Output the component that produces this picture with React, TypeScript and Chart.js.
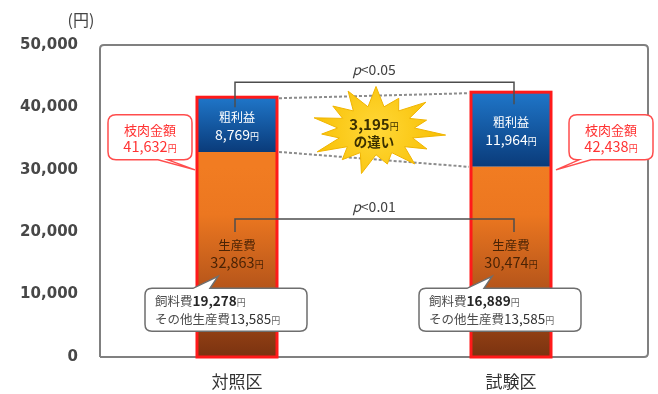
import React, { useEffect, useRef } from 'react';
import { Chart, registerables } from 'chart.js';

Chart.register(...registerables);

// ---------- data ----------
const categories = ['対照区', '試験区'];
const productionCost = [32863, 30474];
const grossProfit = [8769, 11964];
const carcassValue = [41632, 42438];
const feedCost = [19278, 16889];
const otherCost = [13585, 13585];
const profitDiff = 3195;
const pLabels = ['p<0.05', 'p<0.01'];
const yMin = 0;
const yMax = 50000;
const yStep = 10000;
const yUnitLabel = '(円)';
const segmentNames = ['生産費', '粗利益'];
const carcassTitle = '枝肉金額';
const feedName = '飼料費';
const otherName = 'その他生産費';
const diffSuffix = 'の違い';
const yen = '円';

// ---------- style ----------
const JP = '"Noto Sans CJK JP", "Noto Sans", sans-serif';
const fmt = (v: number) => v.toLocaleString('en-US');

type Run = { t: string; f: string; c: string };
function drawRuns(ctx: CanvasRenderingContext2D, runs: Run[], x: number, y: number, align: 'center' | 'left') {
  let w = 0;
  runs.forEach((r) => {
    ctx.font = r.f;
    w += ctx.measureText(r.t).width;
  });
  let cx = align === 'center' ? x - w / 2 : x;
  ctx.textAlign = 'left';
  ctx.textBaseline = 'alphabetic';
  runs.forEach((r) => {
    ctx.font = r.f;
    ctx.fillStyle = r.c;
    ctx.fillText(r.t, cx, y);
    cx += ctx.measureText(r.t).width;
  });
}

function calloutPath(
  ctx: CanvasRenderingContext2D,
  x: number, y: number, w: number, h: number, r: number,
  side: 'top' | 'bottom', b1: number, b2: number, tipX: number, tipY: number
) {
  ctx.beginPath();
  ctx.moveTo(x + r, y);
  if (side === 'top') {
    ctx.lineTo(b1, y);
    ctx.lineTo(tipX, tipY);
    ctx.lineTo(b2, y);
  }
  ctx.lineTo(x + w - r, y);
  ctx.quadraticCurveTo(x + w, y, x + w, y + r);
  ctx.lineTo(x + w, y + h - r);
  ctx.quadraticCurveTo(x + w, y + h, x + w - r, y + h);
  if (side === 'bottom') {
    ctx.lineTo(b2, y + h);
    ctx.lineTo(tipX, tipY);
    ctx.lineTo(b1, y + h);
  }
  ctx.lineTo(x + r, y + h);
  ctx.quadraticCurveTo(x, y + h, x, y + h - r);
  ctx.lineTo(x, y + r);
  ctx.quadraticCurveTo(x, y, x + r, y);
  ctx.closePath();
}

const annotationPlugin = {
  id: 'annotations',
  beforeDatasetsDraw(chart: any) {
    const { ctx, chartArea: a } = chart;
    ctx.save();
    // plot frame
    ctx.strokeStyle = '#808080';
    ctx.lineWidth = 2;
    const r = 4;
    ctx.beginPath();
    ctx.moveTo(a.left, a.bottom);
    ctx.lineTo(a.left, a.top + r);
    ctx.quadraticCurveTo(a.left, a.top, a.left + r, a.top);
    ctx.lineTo(a.right - r, a.top);
    ctx.quadraticCurveTo(a.right, a.top, a.right, a.top + r);
    ctx.lineTo(a.right, a.bottom - r);
    ctx.quadraticCurveTo(a.right, a.bottom, a.right - r, a.bottom);
    ctx.lineTo(a.left, a.bottom);
    ctx.stroke();
    // unit label
    ctx.font = `16px ${JP}`;
    ctx.fillStyle = '#444';
    ctx.textAlign = 'center';
    ctx.textBaseline = 'middle';
    ctx.fillText(yUnitLabel, a.left - 19, a.top - 25);
    ctx.restore();
  },
  afterDatasetsDraw(chart: any) {
    const { ctx } = chart;
    const ys = chart.scales.y;
    const m0 = chart.getDatasetMeta(0).data;
    const m1 = chart.getDatasetMeta(1).data;
    const bars = m0.map((e0: any, i: number) => {
      const e1 = m1[i];
      return {
        cx: e0.x,
        left: e0.x - e0.width / 2,
        right: e0.x + e0.width / 2,
        bottom: e0.base,
        mid: e0.y,
        top: e1.y,
      };
    });
    ctx.save();

    // red outline of whole bar
    ctx.strokeStyle = '#ff1a1a';
    ctx.lineWidth = 3;
    bars.forEach((b: any) => ctx.strokeRect(b.left, b.top, b.right - b.left, b.bottom - b.top));

    // dashed connector lines
    const [b0, b1] = bars;
    ctx.strokeStyle = '#8c8c8c';
    ctx.lineWidth = 2;
    ctx.setLineDash([3, 2]);
    ctx.beginPath();
    ctx.moveTo(b0.right + 2, b0.top + 1);
    ctx.lineTo(b1.left - 2, b1.top + 1);
    ctx.moveTo(b0.right + 2, b0.mid);
    ctx.lineTo(b1.left - 2, b1.mid);
    ctx.stroke();
    ctx.setLineDash([]);

    // starburst
    const sx = (b0.cx + b1.cx) / 2 + 2;
    const sy = ys.getPixelForValue(36300);
    const rx = 70, ry = 44;
    const spikes = 15;
    const outerVar = [1, 0.8, 0.96, 0.76, 1, 0.84, 0.94, 0.78, 1, 0.82, 0.97, 0.78, 0.93, 0.83, 0.98];
    ctx.beginPath();
    for (let k = 0; k < spikes * 2; k++) {
      const ang = -Math.PI / 2 + (k * Math.PI) / spikes;
      const rr = k % 2 === 0 ? outerVar[(k / 2) % outerVar.length] : 0.55;
      const px = sx + Math.cos(ang) * rx * rr;
      const py = sy + Math.sin(ang) * ry * rr;
      if (k === 0) ctx.moveTo(px, py);
      else ctx.lineTo(px, py);
    }
    ctx.closePath();
    const sg = ctx.createRadialGradient(sx, sy, 5, sx, sy, rx);
    sg.addColorStop(0, '#ffd634');
    sg.addColorStop(1, '#f7be00');
    ctx.fillStyle = sg;
    ctx.fill();
    ctx.strokeStyle = '#f0b400';
    ctx.lineWidth = 1;
    ctx.stroke();
    drawRuns(ctx, [
      { t: fmt(profitDiff), f: `bold 15px ${JP}`, c: '#3b3000' },
      { t: yen, f: `9px ${JP}`, c: '#3b3000' },
    ], sx - 2, sy - 0, 'center');
    drawRuns(ctx, [{ t: diffSuffix, f: `bold 13.5px ${JP}`, c: '#3b3000' }], sx - 2, sy + 17, 'center');

    // significance brackets
    const bracket = (yLine: number, end0: number, end1: number, label: string) => {
      ctx.strokeStyle = '#4d4d4d';
      ctx.lineWidth = 1.5;
      ctx.beginPath();
      ctx.moveTo(b0.cx - 2, end0);
      ctx.lineTo(b0.cx - 2, yLine);
      ctx.lineTo(b1.cx + 3, yLine);
      ctx.lineTo(b1.cx + 3, end1);
      ctx.stroke();
      const m = label.match(/^(p)(.*)$/);
      const runs: Run[] = m
        ? [
            { t: m[1], f: `italic 14px ${JP}`, c: '#404040' },
            { t: m[2], f: `14px ${JP}`, c: '#404040' },
          ]
        : [{ t: label, f: `14px ${JP}`, c: '#404040' }];
      drawRuns(ctx, runs, (b0.cx + b1.cx) / 2, yLine - 7, 'center');
    };
    const topMost = Math.min(b0.top, b1.top);
    bracket(topMost - 10, b0.top + 10, b1.top + 12, pLabels[0]);
    const y2 = ys.getPixelForValue(22100);
    bracket(y2, y2 + 13, y2 + 13, pLabels[1]);

    // in-bar labels
    bars.forEach((b: any, i: number) => {
      const bm = (b.top + b.mid) / 2 + 1;
      drawRuns(ctx, [{ t: segmentNames[1], f: `12px ${JP}`, c: '#ffffff' }], b.cx, bm - 4, 'center');
      drawRuns(ctx, [
        { t: fmt(grossProfit[i]), f: `14px ${JP}`, c: '#ffffff' },
        { t: yen, f: `9px ${JP}`, c: '#ffffff' },
      ], b.cx, bm + 14, 'center');
      const om = ys.getPixelForValue(16600);
      drawRuns(ctx, [{ t: segmentNames[0], f: `12.5px ${JP}`, c: '#4a2305' }], b.cx, om - 3, 'center');
      drawRuns(ctx, [
        { t: fmt(productionCost[i]), f: `14.5px ${JP}`, c: '#4a2305' },
        { t: yen, f: `9px ${JP}`, c: '#4a2305' },
      ], b.cx, om + 15, 'center');
    });

    // carcass value red callouts
    const cy = ys.getPixelForValue(35200);
    const cw = 84, ch = 45;
    bars.forEach((b: any, i: number) => {
      let x: number, b1x: number, b2x: number, tipX: number;
      if (i === 0) {
        x = b.left - 89;
        b1x = x + 50; b2x = x + 60; tipX = b.left - 2;
      } else {
        x = b.right + 18;
        b1x = x + 10; b2x = x + 22; tipX = b.right + 5;
      }
      const y = cy - ch / 2;
      calloutPath(ctx, x, y, cw, ch, 8, 'bottom', b1x, b2x, tipX, y + ch + 10);
      ctx.fillStyle = '#ffffff';
      ctx.fill();
      ctx.strokeStyle = '#ff4d4d';
      ctx.lineWidth = 1.5;
      ctx.stroke();
      drawRuns(ctx, [{ t: carcassTitle, f: `13px ${JP}`, c: '#ff3333' }], x + cw / 2, y + 20, 'center');
      drawRuns(ctx, [
        { t: fmt(carcassValue[i]), f: `14.5px ${JP}`, c: '#ff3333' },
        { t: yen, f: `9px ${JP}`, c: '#ff3333' },
      ], x + cw / 2, y + 37, 'center');
    });

    // cost breakdown white callouts
    const wy = ys.getPixelForValue(11000);
    bars.forEach((b: any, i: number) => {
      const x = b.cx - 92;
      const w = 162, h = 43;
      const y = wy;
      calloutPath(ctx, x, y, w, h, 7, 'top', b.cx - 44, b.cx - 27, b.cx - 19, y - 12);
      ctx.fillStyle = '#ffffff';
      ctx.fill();
      ctx.strokeStyle = '#6e6e6e';
      ctx.lineWidth = 1.5;
      ctx.stroke();
      drawRuns(ctx, [
        { t: feedName, f: `12.5px ${JP}`, c: '#4d4d4d' },
        { t: fmt(feedCost[i]), f: `bold 13.5px ${JP}`, c: '#262626' },
        { t: yen, f: `9px ${JP}`, c: '#666' },
      ], x + 10, y + 18, 'left');
      drawRuns(ctx, [
        { t: otherName, f: `12.5px ${JP}`, c: '#4d4d4d' },
        { t: fmt(otherCost[i]), f: `13.5px ${JP}`, c: '#333' },
        { t: yen, f: `9px ${JP}`, c: '#666' },
      ], x + 10, y + 36, 'left');
    });

    ctx.restore();
  },
};

export default function App() {
  const ref = useRef<HTMLCanvasElement | null>(null);
  useEffect(() => {
    document.body.style.margin = '0';
    const canvas = ref.current;
    if (!canvas) return;
    const orangeGrad = (c: any) => {
      const chart = c.chart;
      const a = chart.chartArea;
      if (!a) return '#ef7a22';
      const top = chart.scales.y.getPixelForValue(Math.min(...productionCost));
      const g = chart.ctx.createLinearGradient(0, a.bottom, 0, top);
      g.addColorStop(0, '#7a3210');
      g.addColorStop(0.35, '#b4541a');
      g.addColorStop(0.75, '#ec7720');
      g.addColorStop(1, '#f17c22');
      return g;
    };
    const blueGrad = (c: any) => {
      const chart = c.chart;
      const a = chart.chartArea;
      if (!a || c.dataIndex === undefined) return '#145aa8';
      const ys = chart.scales.y;
      const i = c.dataIndex;
      const top = ys.getPixelForValue(productionCost[i] + grossProfit[i]);
      const bot = ys.getPixelForValue(productionCost[i]);
      const g = chart.ctx.createLinearGradient(0, top, 0, bot);
      g.addColorStop(0, '#1f76c9');
      g.addColorStop(1, '#0a3b7a');
      return g;
    };
    const chart = new Chart(canvas, {
      type: 'bar',
      data: {
        labels: categories,
        datasets: [
          { label: segmentNames[0], data: productionCost, backgroundColor: orangeGrad, borderWidth: 0 },
          { label: segmentNames[1], data: grossProfit, backgroundColor: blueGrad, borderWidth: 0 },
        ],
      },
      options: {
        responsive: false,
        animation: false,
        layout: { padding: { top: 45, right: 10, left: 0, bottom: 0 } },
        datasets: { bar: { barPercentage: 0.292, categoryPercentage: 1 } },
        plugins: { legend: { display: false }, tooltip: { enabled: false } },
        scales: {
          x: {
            stacked: true,
            grid: { display: false, drawTicks: false },
            border: { display: false },
            ticks: { font: { family: JP, size: 17 }, color: '#333333', padding: 14 },
            afterFit: (s: any) => { s.height = 37; },
          },
          y: {
            stacked: true,
            min: yMin,
            max: yMax,
            ticks: {
              stepSize: yStep,
              callback: (v: any) => fmt(Number(v)),
              font: { family: '"DejaVu Sans", sans-serif', size: 15, weight: 'bold' },
              color: '#474747',
              padding: 22,
            },
            grid: { display: false, drawTicks: false },
            border: { display: false },
            afterFit: (s: any) => { s.width = 100; },
          },
        },
      } as any,
      plugins: [annotationPlugin],
    });
    return () => chart.destroy();
  }, []);
  return (
    <div style={{ width: 658, height: 394 }}>
      <canvas ref={ref} width={658} height={394} />
    </div>
  );
}
